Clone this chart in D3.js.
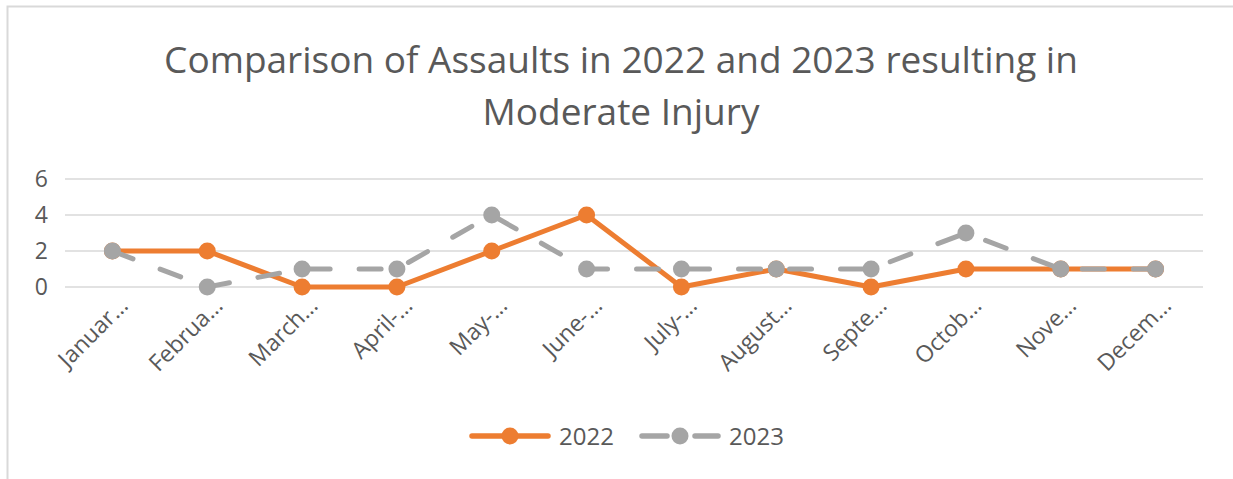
<!DOCTYPE html>
<html>
<head>
<meta charset="utf-8">
<script src="https://cdn.jsdelivr.net/npm/d3@7"></script>
<style>
  body { margin: 0; background: #fff; }
  text { font-family: "Open Sans", sans-serif; fill: #595959; }
</style>
</head>
<body>
<svg id="chart"></svg>
<script>
const width = 1233;
const height = 479;

// data
const months = ["Januar\u2026", "Februa\u2026", "March\u2026", "April-\u2026", "May-\u2026", "June-\u2026",
                "July-\u2026", "August\u2026", "Septe\u2026", "Octob\u2026", "Nove\u2026", "Decem\u2026"];
const values2022 = [2, 2, 0, 0, 2, 4, 0, 1, 0, 1, 1, 1];
const values2023 = [2, 0, 1, 1, 4, 1, 1, 1, 1, 3, 1, 1];
const yTicks = [0, 2, 4, 6];
const seriesNames = ["2022", "2023"];
const titleLines = ["Comparison of Assaults in 2022 and 2023 resulting in", "Moderate Injury"];

const svg = d3.select("svg#chart")
  .attr("width", width)
  .attr("height", height);

const margin = { top: 179, left: 65, right: 30, bottom: 192 };

// chart area border
svg.append("rect")
  .attr("x", 7.5)
  .attr("y", 6.5)
  .attr("width", width + 20)
  .attr("height", height + 20)
  .attr("fill", "none")
  .attr("stroke", "#d9d9d9")
  .attr("stroke-width", 2);

// title
svg.append("g").selectAll("text")
  .data(titleLines)
  .enter()
  .append("text")
    .attr("x", 621)
    .attr("y", (d, i) => 73 + i * 52)
    .attr("text-anchor", "middle")
    .style("font-size", "37px")
    .text(d => d);

const x = d3.scaleBand()
  .domain(months)
  .range([margin.left, width - margin.right]);

const y = d3.scaleLinear()
  .domain([0, 6])
  .range([height - margin.bottom, margin.top]);

// gridlines
svg.append("g").selectAll("line")
  .data(yTicks)
  .enter()
  .append("line")
    .attr("x1", margin.left)
    .attr("x2", width - margin.right)
    .attr("y1", d => y(d))
    .attr("y2", d => y(d))
    .attr("stroke", "#d9d9d9")
    .attr("stroke-width", 1.5);

// y axis labels
const yAxis = svg.append("g")
  .attr("transform", "translate(" + (margin.left - 17) + ",0)")
  .call(d3.axisLeft(y).tickValues(yTicks).tickFormat(d3.format("d")).tickSize(0).tickPadding(0));
yAxis.select(".domain").remove();
yAxis.selectAll("text")
  .style("font-size", "23px")
  .style("font-family", "Open Sans, sans-serif")
  .attr("fill", "#595959");

// x axis labels, rotated
svg.append("g").selectAll("text")
  .data(months)
  .enter()
  .append("text")
    .attr("text-anchor", "end")
    .style("font-size", "23px")
    .attr("transform", d => "translate(" + (x(d) + x.bandwidth() / 2 + 17) + ",307) rotate(-45)")
    .text(d => d);

const line = d3.line()
  .x((d, i) => x(months[i]) + x.bandwidth() / 2)
  .y(d => y(d));

const series = [
  { name: seriesNames[0], values: values2022, color: "#ed7d31", dash: null },
  { name: seriesNames[1], values: values2023, color: "#a5a5a5", dash: "22,29" }
];

// draw series: 2022 first, 2023 on top
series.forEach(s => {
  svg.append("path")
    .datum(s.values)
    .attr("d", line)
    .attr("fill", "none")
    .attr("stroke", s.color)
    .attr("stroke-width", 5)
    .attr("stroke-linejoin", "round")
    .attr("stroke-linecap", "round")
    .attr("stroke-dasharray", s.dash);

  svg.append("g").selectAll("circle")
    .data(s.values)
    .enter()
    .append("circle")
      .attr("cx", (d, i) => x(months[i]) + x.bandwidth() / 2)
      .attr("cy", d => y(d))
      .attr("r", 8.5)
      .attr("fill", s.color);
});

// legend
const legendX = [470, 640];
const legend = svg.append("g").selectAll("g")
  .data(series)
  .enter()
  .append("g")
    .attr("transform", (d, i) => "translate(" + legendX[i] + ",436)");

// legend line sample, split in two halves around the marker
legend.append("line")
  .attr("x1", 2)
  .attr("x2", d => d.dash ? 27 : 40)
  .attr("stroke", d => d.color)
  .attr("stroke-width", 5.5)
  .attr("stroke-linecap", "round");

legend.append("line")
  .attr("x1", d => d.dash ? 55 : 40)
  .attr("x2", 78)
  .attr("stroke", d => d.color)
  .attr("stroke-width", 5.5)
  .attr("stroke-linecap", "round");

legend.append("circle")
  .attr("cx", 40)
  .attr("r", 8.5)
  .attr("fill", d => d.color);

legend.append("text")
  .attr("x", 89)
  .attr("dy", "0.36em")
  .style("font-size", "24px")
  .text(d => d.name);
</script>
</body>
</html>
